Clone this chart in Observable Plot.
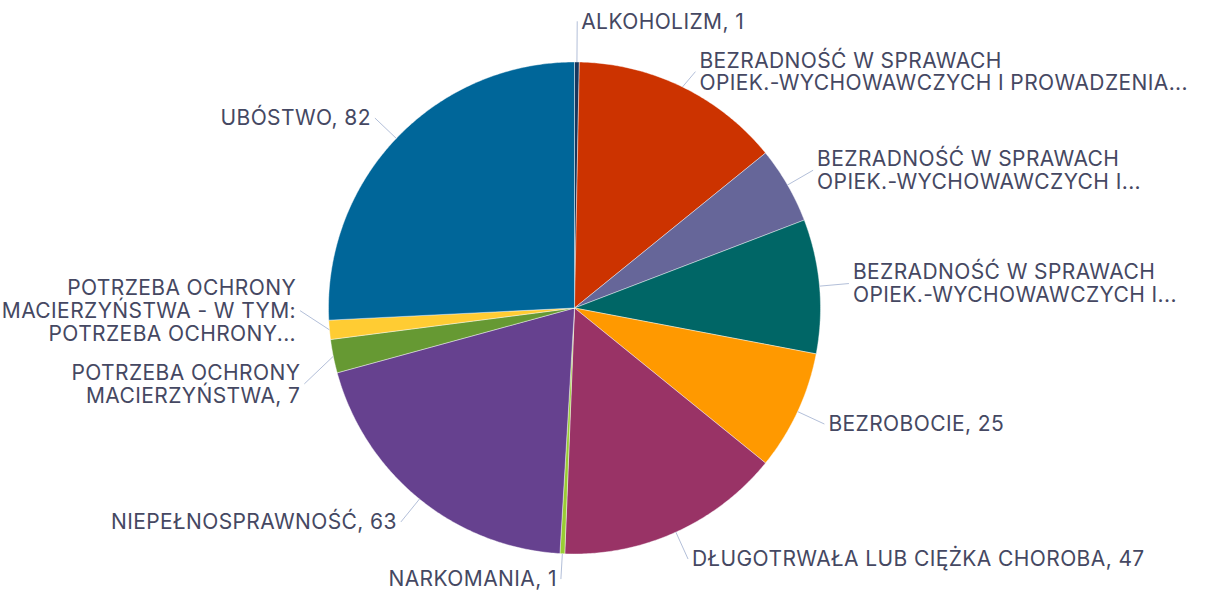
<!DOCTYPE html>
<html>
<head>
<meta charset="utf-8">
<script src="https://cdn.jsdelivr.net/npm/d3@7"></script>
<script src="https://cdn.jsdelivr.net/npm/@observablehq/plot@0.6"></script>
<style>
  html, body { margin: 0; padding: 0; background: #ffffff; }
  #chart { width: 1215px; height: 593px; }
  #chart text { letter-spacing: 0.4px; }
</style>
</head>
<body>
<div id="chart"></div>
<script>
// ---- data ----
const categories = [
  "ALKOHOLIZM",
  "BEZRADNOŚĆ W SPRAWACH OPIEK.-WYCHOWAWCZYCH I PROWADZENIA GOSPODARSTWA DOMOWEGO",
  "BEZRADNOŚĆ W SPRAWACH OPIEK.-WYCHOWAWCZYCH I PROWADZENIA GOSPODARSTWA DOMOWEGO - RODZINY NIEPEŁNE",
  "BEZRADNOŚĆ W SPRAWACH OPIEK.-WYCHOWAWCZYCH I PROWADZENIA GOSPODARSTWA DOMOWEGO - RODZINY WIELODZIETNE",
  "BEZROBOCIE",
  "DŁUGOTRWAŁA LUB CIĘŻKA CHOROBA",
  "NARKOMANIA",
  "NIEPEŁNOSPRAWNOŚĆ",
  "POTRZEBA OCHRONY MACIERZYŃSTWA",
  "POTRZEBA OCHRONY MACIERZYŃSTWA - W TYM: POTRZEBA OCHRONY MACIERZYŃSTWA LUB WIELODZIETNOŚCI",
  "UBÓSTWO"
];
const values = [1, 44, 16, 28, 25, 47, 1, 63, 7, 4, 82];
const labels = [
  "ALKOHOLIZM, 1",
  "BEZRADNOŚĆ W SPRAWACH\nOPIEK.-WYCHOWAWCZYCH I PROWADZENIA...",
  "BEZRADNOŚĆ W SPRAWACH\nOPIEK.-WYCHOWAWCZYCH I...",
  "BEZRADNOŚĆ W SPRAWACH\nOPIEK.-WYCHOWAWCZYCH I...",
  "BEZROBOCIE, 25",
  "DŁUGOTRWAŁA LUB CIĘŻKA CHOROBA, 47",
  "NARKOMANIA, 1",
  "NIEPEŁNOSPRAWNOŚĆ, 63",
  "POTRZEBA OCHRONY\nMACIERZYŃSTWA, 7",
  "POTRZEBA OCHRONY\nMACIERZYŃSTWA - W TYM:\nPOTRZEBA OCHRONY...",
  "UBÓSTWO, 82"
];
const colors = [
  "#17375e", "#cc3300", "#666699", "#006666", "#ff9900", "#993366",
  "#99cc33", "#66418f", "#669933", "#ffcc33", "#006699"
];

// ---- geometry derived from the data ----
const W = 1215, H = 593;
const cx = 574, cy = 307.5, unit = 246;   // pie centre and radius in px
const arcs = d3.pie().sort(null).value(d => d)(values);
const slicePts = [];
arcs.forEach((p, i) => {
  const cat = categories[i];
  slicePts.push({cat, x: 0, y: 0});
  const n = Math.max(2, Math.ceil((p.endAngle - p.startAngle) / (Math.PI / 360)));
  for (let k = 0; k <= n; k++) {
    const a = p.startAngle + (p.endAngle - p.startAngle) * k / n;
    slicePts.push({cat, x: Math.sin(a), y: Math.cos(a)});
  }
  slicePts.push({cat, x: 0, y: 0});
});

const fontSize = 21;
const lineHeight = 1.09;
const lineH = fontSize * lineHeight;
const R = 1.12;
const lab = arcs.map((p, i) => {
  const a = (p.startAngle + p.endAngle) / 2;
  return {
    side: Math.sin(a) >= 0 ? "right" : "left",
    ex: Math.sin(a), ey: Math.cos(a),
    lx: R * Math.sin(a), ly: R * Math.cos(a),
    text: labels[i], lines: labels[i].split("\n").length
  };
});
// symmetric vertical relaxation per side to avoid overlaps
const gap = 16 / unit;
const yMin = -(H - cy) / unit, yMax = cy / unit;
for (let iter = 0; iter < 300; iter++) {
  for (const side of ["right", "left"]) {
    const arr = lab.filter(d => d.side === side).sort((a, b) => b.ly - a.ly);
    for (let j = 0; j < arr.length - 1; j++) {
      const a = arr[j], b = arr[j + 1];
      const need = (a.lines + b.lines) * lineH / unit / 2 + gap;
      const ov = need - (a.ly - b.ly);
      if (ov > 1e-6) { a.ly += ov / 2; b.ly -= ov / 2; }
    }
    for (const d of arr) {
      const hh = (d.lines * lineH / 2 + 3) / unit;
      d.ly = Math.max(yMin + hh, Math.min(yMax - hh, d.ly));
    }
  }
}

const textStyle = {fontSize, lineHeight, fill: "#454862", fontFamily: "Inter"};

const chart = Plot.plot({
  width: W,
  height: H,
  x: {domain: [-1, 1], range: [cx - unit, cx + unit], axis: null},
  y: {domain: [-1, 1], range: [cy + unit, cy - unit], axis: null},
  color: {domain: categories, range: colors},
  style: {fontFamily: "Inter", background: "#ffffff"},
  marks: [
    Plot.line(slicePts, {x: "x", y: "y", z: "cat", fill: "cat", stroke: "#ffffff", strokeWidth: 0.6, strokeOpacity: 0.7}),
    Plot.link(lab, {x1: "ex", y1: "ey", x2: "lx", y2: "ly", stroke: "#b3bfd9", strokeWidth: 1}),
    Plot.text(lab.filter(d => d.side === "right"), {x: "lx", y: "ly", text: "text", textAnchor: "start", dx: 4, ...textStyle}),
    Plot.text(lab.filter(d => d.side === "left"), {x: "lx", y: "ly", text: "text", textAnchor: "end", dx: -4, ...textStyle})
  ]
});
document.getElementById("chart").appendChild(chart);
</script>
</body>
</html>
